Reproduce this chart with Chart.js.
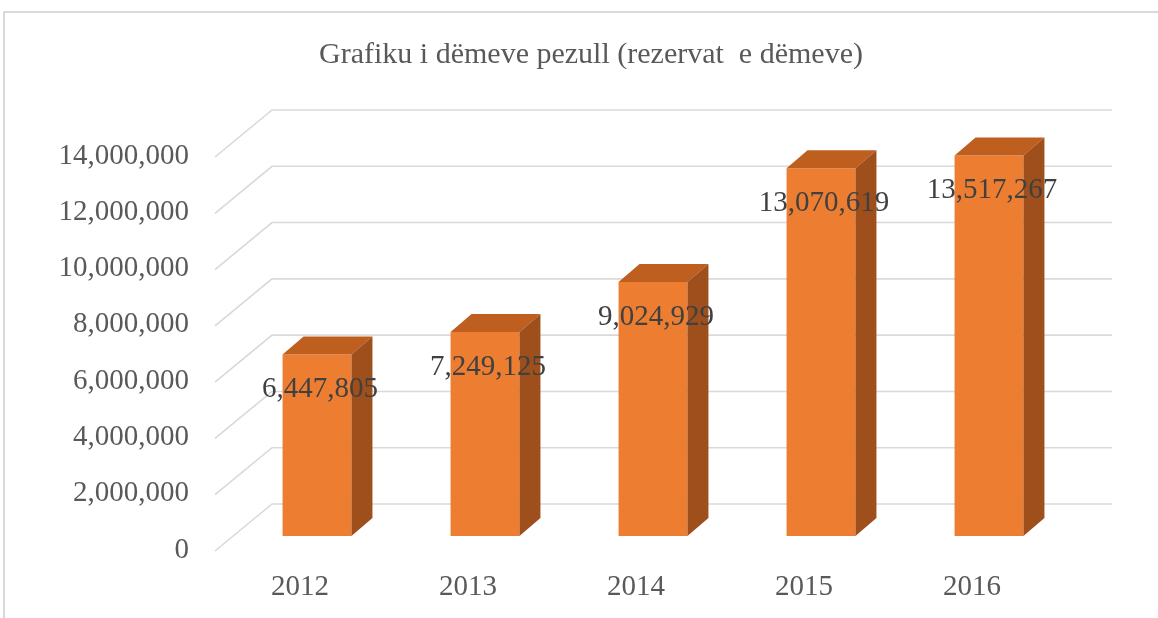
<!DOCTYPE html>
<html>
<head>
<meta charset="utf-8">
<script src="https://cdn.jsdelivr.net/npm/chart.js@4.4.1/dist/chart.umd.min.js"></script>
<style>
html,body{margin:0;padding:0;background:#fff;}
#wrap{width:1158px;height:618px;position:relative;}
</style>
</head>
<body>
<div id="wrap"><canvas id="c" width="1158" height="618"></canvas></div>
<script>
// ---- data ----
const chartTitle = 'Grafiku i dëmeve pezull (rezervat  e dëmeve)';
const years = ['2012', '2013', '2014', '2015', '2016'];
const reserves = [6447805, 7249125, 9024929, 13070619, 13517267];
const yMin = 0;
const yMax = 14000000;
const yStep = 2000000;

// ---- style ----
const FRONT = '#ED7D31', TOP = '#BE5E1F', SIDE = '#9E4F1C';
const GRID = '#D9D9D9';
const DX = 21, DY = 18;           // bar depth
const SERIF = '"Liberation Serif", "Times New Roman", serif';
const fmt = v => v.toLocaleString('en-US');

const threeD = {
  id: 'threeD',
  beforeDraw(chart) {
    const ctx = chart.ctx;
    ctx.save();
    ctx.fillStyle = '#fff';
    ctx.fillRect(0, 0, chart.width, chart.height);
    ctx.strokeStyle = '#D9D9D9';
    ctx.lineWidth = 2;
    ctx.beginPath();
    ctx.moveTo(4, chart.height);
    ctx.lineTo(4, 12);
    ctx.lineTo(chart.width, 12);
    ctx.stroke();
    ctx.restore();
  },
  beforeDatasetsDraw(chart) {
    const {ctx, chartArea: a, scales: {y}} = chart;
    ctx.save();
    ctx.strokeStyle = GRID;
    ctx.lineWidth = 1.6;
    y.ticks.forEach(t => {
      const py = y.getPixelForValue(t.value);
      ctx.beginPath();
      ctx.moveTo(a.left - 18, py + 15);
      ctx.lineTo(a.left + 39, py - 32);
      ctx.lineTo(a.right + 39, py - 32);
      ctx.stroke();
    });
    ctx.restore();
  },
  afterDatasetsDraw(chart) {
    const ctx = chart.ctx;
    const meta = chart.getDatasetMeta(0);
    const ds = chart.data.datasets[0].data;
    ctx.save();
    meta.data.forEach(bar => {
      const {x, y, width, base} = bar.getProps(['x', 'y', 'width', 'base'], true);
      const x0 = x - width / 2, x1 = x + width / 2;
      ctx.fillStyle = TOP;
      ctx.beginPath();
      ctx.moveTo(x0, y); ctx.lineTo(x1, y); ctx.lineTo(x1 + DX, y - DY); ctx.lineTo(x0 + DX, y - DY);
      ctx.closePath(); ctx.fill();
      ctx.fillStyle = SIDE;
      ctx.beginPath();
      ctx.moveTo(x1, y); ctx.lineTo(x1 + DX, y - DY); ctx.lineTo(x1 + DX, base - DY); ctx.lineTo(x1, base);
      ctx.closePath(); ctx.fill();
    });
    ctx.font = '29px ' + SERIF;
    ctx.fillStyle = '#404040';
    ctx.textAlign = 'center';
    ctx.textBaseline = 'middle';
    meta.data.forEach((bar, i) => {
      const {x, y} = bar.getProps(['x', 'y'], true);
      ctx.fillText(fmt(ds[i]), x + 3, y + 35);
    });
    ctx.restore();
  }
};

new Chart(document.getElementById('c'), {
  type: 'bar',
  data: {
    labels: years,
    datasets: [{
      data: reserves,
      backgroundColor: FRONT,
      borderWidth: 0,
      barPercentage: 0.41,
      categoryPercentage: 1
    }]
  },
  options: {
    responsive: false,
    animation: false,
    layout: {padding: {left: 24, right: 0, top: 0, bottom: 0}},
    plugins: {
      legend: {display: false},
      tooltip: {enabled: false},
      title: {
        display: true,
        text: chartTitle,
        color: '#595959',
        font: {family: SERIF, size: 30, weight: 'normal', lineHeight: 1.2},
        padding: {top: 37, bottom: 69}
      }
    },
    scales: {
      x: {
        grid: {display: false, drawTicks: false},
        border: {display: false},
        ticks: {
          color: '#595959',
          font: {family: SERIF, size: 29},
          padding: 34,
          labelOffset: -17
        },
        afterFit(s) { s.height = 82; }
      },
      y: {
        min: yMin,
        max: yMax,
        grid: {display: false, drawTicks: false},
        border: {display: false},
        ticks: {
          stepSize: yStep,
          color: '#595959',
          font: {family: SERIF, size: 29},
          padding: 44,
          labelOffset: 14,
          callback: v => fmt(v)
        },
        afterFit(s) { s.width = 209; }
      },
      yRight: {
        position: 'right',
        display: true,
        grid: {display: false, drawTicks: false},
        border: {display: false},
        ticks: {display: false},
        afterFit(s) { s.width = 85; }
      }
    }
  },
  plugins: [threeD]
});
</script>
</body>
</html>
